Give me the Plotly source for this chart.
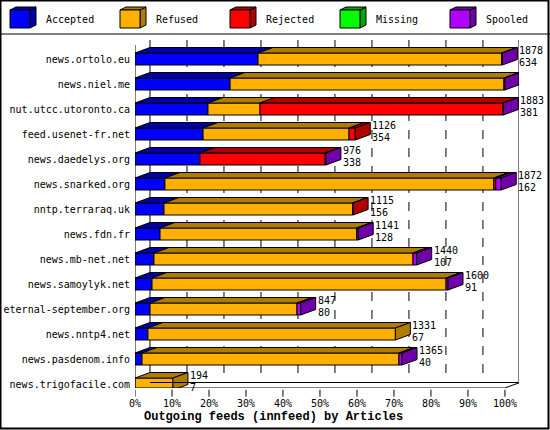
import plotly.graph_objects as go

hosts = ["news.ortolo.eu", "news.niel.me", "nut.utcc.utoronto.ca", "feed.usenet-fr.net",
         "news.daedelys.org", "news.snarked.org", "nntp.terraraq.uk", "news.fdn.fr",
         "news.mb-net.net", "news.samoylyk.net", "eternal-september.org", "news.nntp4.net",
         "news.pasdenom.info", "news.trigofacile.com"]
accepted = [629, 486, 373, 348, 332, 153, 148, 128, 97, 87, 77, 66, 36, 0]
refused = [1245, 1400, 266, 746, 0, 1681, 964, 1005, 1324, 1503, 751, 1265, 1313, 194]
rejected = [0, 0, 1242, 32, 640, 10, 3, 0, 0, 0, 0, 0, 0, 0]
missing = [0] * 14
spooled = [4, 5, 2, 0, 4, 28, 0, 8, 19, 10, 19, 0, 16, 0]
totals = [1878, 1891, 1883, 1126, 976, 1872, 1115, 1141, 1440, 1600, 847, 1331, 1365, 194]
second = [634, 488, 381, 354, 338, 162, 156, 128, 107, 91, 80, 67, 40, 7]

names = ["Accepted", "Refused", "Rejected", "Missing", "Spooled"]
front = ["#0000ff", "#ffb000", "#ff0000", "#00ff00", "#b000ff"]
dark = ["#0000a8", "#b07c00", "#b00000", "#00a800", "#7000a8"]
series = [accepted, refused, rejected, missing, spooled]

FONT = "DejaVu Sans Mono"
W, H = 550, 430
L, R, T, B = 135, 519, 40, 388
XMAX = 103.8
DX, HH, DY = 4.05, 0.24, 0.22
YTOP, YBOT = (T - 59) / 25, (B - 59) / 25
scale = max(totals)

fig = go.Figure()


def poly(xs, ys, color):
    fig.add_trace(go.Scatter(x=xs + [xs[0]], y=ys + [ys[0]], mode="lines", fill="toself",
                             fillcolor=color, line=dict(color="black", width=1),
                             hoverinfo="skip", showlegend=False))


# back-wall grid
shapes = []
for p in range(0, 100, 10):
    shapes.append(dict(type="line", xref="x", yref="y", x0=p + DX, x1=p + DX, y0=YTOP, y1=YBOT - DY,
                       layer="below",
                       line=dict(color="black", width=1, dash="solid" if p == 0 else "dash")))

for i, h in enumerate(hosts):
    x0 = 0.0
    last = None
    for k, s in enumerate(series):
        v = s[i] / scale * 100
        if v <= 0:
            continue
        x1 = x0 + v
        fig.add_trace(go.Bar(y=[i], x=[v], base=[x0], orientation="h", width=2 * HH,
                             marker=dict(color=front[k], line=dict(color="black", width=1)),
                             hoverinfo="skip", showlegend=False))
        poly([x0, x1, x1 + DX, x0 + DX], [i - HH, i - HH, i - HH - DY, i - HH - DY], dark[k])
        last = (x1, k)
        x0 = x1
    x1, k = last
    poly([x1, x1, x1 + DX, x1 + DX], [i - HH, i + HH, i + HH - DY, i - HH - DY], dark[k])
    for j, txt in enumerate([totals[i], second[i]]):
        fig.add_annotation(x=x1 + DX, y=i - HH - DY, text=str(txt), showarrow=False,
                           xanchor="left", yanchor="top", xshift=0, yshift=5 - 12 * j,
                           font=dict(family=FONT, size=10, color="black"))

# floor / axes
for p in range(0, 101, 10):
    shapes.append(dict(type="line", xref="x", yref="paper", x0=p, x1=p, y0=-0.005, y1=-0.025,
                       line=dict(color="black", width=1)))
shapes += [
    dict(type="line", xref="x", yref="y", x0=0, x1=0, y0=YTOP + 0.2, y1=YBOT, line=dict(color="black", width=1)),
    dict(type="line", xref="x", yref="y", x0=DX, x1=XMAX + 4, y0=YBOT - DY, y1=YBOT - DY,
         line=dict(color="black", width=1)),
    dict(type="line", xref="x", yref="y", x0=-DX, x1=0, y0=YBOT + DY, y1=YBOT, line=dict(color="black", width=1)),
    dict(type="line", xref="x", yref="y", x0=0, x1=100, y0=YBOT, y1=YBOT, line=dict(color="black", width=1)),
    dict(type="line", xref="x", yref="y", x0=100, x1=100 + DX, y0=YBOT, y1=YBOT - DY,
         line=dict(color="black", width=1)),
    dict(type="line", xref="x", yref="y", x0=XMAX, x1=XMAX, y0=YTOP, y1=YBOT - DY, line=dict(color="black", width=1)),
]


def px(x):
    return (x - L) / (R - L)


def py(y):
    return (B - y) / (B - T)


# outer frame and legend divider
shapes.append(dict(type="rect", xref="paper", yref="paper", x0=px(0.5), x1=px(W - 1.5), y0=py(0.5), y1=py(H - 1.5),
                   line=dict(color="black", width=2)))
shapes.append(dict(type="line", xref="paper", yref="paper", x0=px(0), x1=px(W), y0=py(34), y1=py(34),
                   line=dict(color="black", width=1)))
for k, n in enumerate(names):
    bx = 10 + 110 * k
    shapes.append(dict(type="path", xref="paper", yref="paper", fillcolor=dark[k], line=dict(color="black", width=1),
                       path=f"M {px(bx)} {py(10)} L {px(bx + 20)} {py(10)} L {px(bx + 26)} {py(7)} "
                            f"L {px(bx + 26)} {py(25)} L {px(bx + 20)} {py(28)} L {px(bx + 20)} {py(10)} Z"))
    shapes.append(dict(type="path", xref="paper", yref="paper", fillcolor=dark[k], line=dict(color="black", width=1),
                       path=f"M {px(bx)} {py(10)} L {px(bx + 6)} {py(7)} L {px(bx + 26)} {py(7)} L {px(bx + 20)} {py(10)} Z"))
    shapes.append(dict(type="rect", xref="paper", yref="paper", fillcolor=front[k], line=dict(color="black", width=1),
                       x0=px(bx), x1=px(bx + 20), y0=py(10), y1=py(28)))
    fig.add_annotation(xref="paper", yref="paper", x=px(bx + 34), y=py(19), text=n, showarrow=False,
                       xanchor="left", yanchor="middle", font=dict(family=FONT, size=10, color="black"))

fig.add_annotation(xref="paper", yref="paper", x=px(273), y=py(417), text="<b>Outgoing feeds (innfeed) by Articles</b>",
                   showarrow=False, xanchor="center", yanchor="middle",
                   font=dict(family="Liberation Mono", size=12, color="black"))

fig.update_layout(
    width=W, height=H, margin=dict(l=L, r=W - R, t=T, b=H - B, autoexpand=False),
    paper_bgcolor="white", plot_bgcolor="white", barmode="overlay", shapes=shapes,
    font=dict(family=FONT, size=10, color="black"),
    xaxis=dict(range=[0, XMAX], tickvals=list(range(0, 101, 10)), automargin=False,
               ticktext=[f"{p}%" for p in range(0, 101, 10)], showgrid=False, zeroline=False,
               ticks="", ticklabelstandoff=8, tickfont=dict(family=FONT, size=10)),
    yaxis=dict(range=[YBOT, YTOP], tickvals=list(range(len(hosts))), ticktext=hosts, showgrid=False,
               automargin=False, zeroline=False, ticks="", ticklabelstandoff=4,
               tickfont=dict(family=FONT, size=10)),
)
fig.write_html("out.html", config=dict(displayModeBar=False),
               post_script="document.body.style.margin='0';")
